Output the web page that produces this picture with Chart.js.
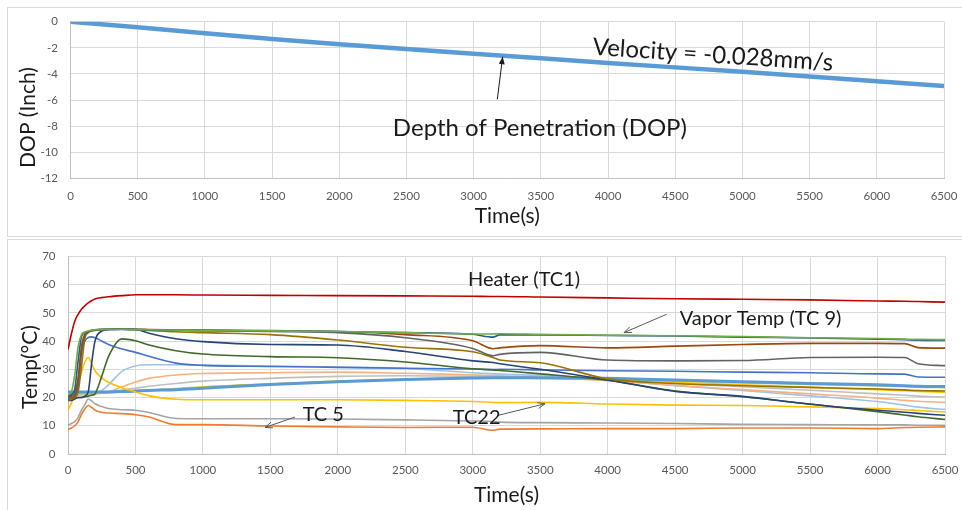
<!DOCTYPE html>
<html>
<head>
<meta charset="utf-8">
<title>DOP and temperature</title>
<script src="https://cdn.jsdelivr.net/npm/chart.js@4.4.0/dist/chart.umd.min.js"></script>
<style>
  body { margin: 0; background: #fff; width: 962px; height: 510px; overflow: hidden; position: relative; }
  .panel { position: absolute; left: 7px; border: 1px solid #d9d9d9; border-right: none; }
  #p1 { top: 7px; width: 955px; height: 228px; }
  #p2 { top: 239px; width: 955px; height: 280px; border-bottom: none; }
  canvas { position: absolute; left: 0; }
  #c1 { top: 0; }
  #c2 { top: 237px; }
</style>
</head>
<body>
<div class="panel" id="p1"></div>
<div class="panel" id="p2"></div>
<canvas id="c1" width="962" height="237"></canvas>
<canvas id="c2" width="962" height="273"></canvas>
<script>
// ---- top chart data: depth of penetration
const dopTime = [0, 500, 1000, 1500, 2000, 2500, 3000, 3500, 4000, 4500, 5000, 5500, 6000, 6500];
const dop = [0, -0.43, -0.89, -1.33, -1.73, -2.1, -2.45, -2.8, -3.17, -3.5, -3.83, -4.2, -4.56, -4.93];

// ---- bottom chart data: thermocouples
const time = [0, 25, 50, 75, 100, 125, 150, 175, 200, 250, 300, 400, 500, 600, 800, 1000, 1500, 2000, 2500, 3000, 3150, 3200, 3500, 4000, 4500, 5000, 5500, 6000, 6200, 6300, 6500];
const heater = [37, 42.5, 47, 49.5, 51.3, 52.5, 53.5, 54.3, 54.9, 55.4, 55.7, 56.1, 56.4, 56.4, 56.4, 56.3, 56.2, 56.1, 56.0, 55.9, 55.8, 55.8, 55.6, 55.3, 55.0, 54.8, 54.6, 54.2, 54.1, 54.0, 53.8];
const tcGreen = [21, 22, 28, 38, 42.3, 43.2, 43.6, 43.8, 44, 44.1, 44.2, 44.2, 44.1, 44, 43.9, 43.8, 43.6, 43.4, 43, 42.5, 42.5, 42.6, 42.4, 42.1, 41.9, 41.6, 41.2, 40.9, 40.7, 40.6, 40.5];
const tcTeal = [20.5, 21, 23, 33, 41.5, 43, 43.5, 43.8, 44, 44.1, 44.2, 44.2, 44.1, 44, 43.9, 43.8, 43.6, 43.4, 43, 42.4, 41.4, 42.2, 42.2, 42.0, 41.8, 41.4, 41.1, 40.7, 40.5, 40.3, 40.2];
const tcBrown = [20, 20.5, 21, 27, 38, 42.5, 43.3, 43.7, 44, 44.1, 44.2, 44.2, 44.2, 44.1, 44, 43.9, 43.7, 43.4, 42.3, 40.1, 37.3, 37.6, 38.4, 37.6, 38.2, 38.8, 39.2, 39.2, 39.1, 37.7, 37.5];
const tcDarkGray = [19.5, 20, 20.5, 24, 36, 42, 43.2, 43.6, 43.8, 44, 44, 44.1, 44, 43.9, 43.8, 43.7, 43.4, 43.0, 41.2, 37.4, 34.8, 35.3, 36.0, 33.3, 33.0, 33.1, 34.2, 34.3, 34.2, 32.0, 31.3];
const tcOlive = [19, 19.5, 20, 22, 31, 41, 43, 43.6, 43.9, 44.1, 44.2, 44.2, 44.1, 43.8, 43.3, 43.0, 42.3, 40.4, 37.8, 36.2, 34.2, 33.3, 32.3, 26.6, 25.0, 24.2, 23.6, 23.0, 22.7, 22.5, 22.3];
const tcNavy = [19, 19, 19.5, 20, 20, 20.5, 22, 32, 40, 43.5, 44.1, 44.3, 44.2, 42.8, 40.8, 39.8, 38.8, 38.6, 36.3, 33.0, 32.4, 32.0, 30.0, 26.2, 22.2, 20.4, 17.6, 15.5, 14.8, 14.4, 13.7];
const tcDarkGreen = [19.5, 19.5, 19.8, 20, 20, 20.3, 20.5, 20.8, 21.3, 27.5, 34.5, 40.8, 40.1, 38.6, 36.6, 35.4, 34.5, 34.1, 32.6, 30.2, 29.8, 29.6, 28.4, 26.1, 22.3, 20.3, 17.7, 15.0, 13.8, 13.2, 12.2];
const tcBlue = [20.5, 21, 22, 26, 36, 40, 41.3, 41.5, 41.2, 40, 38.8, 37.2, 36, 34.6, 32.2, 31.4, 31.0, 30.7, 30.4, 30.1, 29.9, 30.0, 29.8, 29.5, 29.3, 29.0, 28.8, 28.4, 28.3, 27.3, 27.2];
const tcLightBlue = [21.5, 21.5, 21.5, 21.5, 21.5, 21.5, 21.5, 21.6, 21.8, 22.5, 24.5, 29.3, 31.2, 31.6, 31.6, 31.5, 31.2, 30.8, 30.3, 28.8, 28.4, 28.3, 27.8, 26.2, 24.2, 22.5, 20.6, 18.6, 17.3, 16.6, 15.8];
const tcLightOrange = [21, 21, 21, 21, 21.2, 21.3, 21.4, 21.5, 21.5, 21.7, 22, 23.8, 25.5, 26.8, 28.0, 28.5, 28.8, 29.0, 28.6, 28.0, 27.8, 27.7, 27.2, 26.0, 24.3, 22.8, 21.3, 19.8, 19.0, 18.7, 18.3];
const tcLightGray = [21, 21, 21, 21, 21, 21.2, 21.3, 21.4, 21.5, 21.7, 22, 22.7, 23.3, 24, 25, 25.8, 26.8, 27.5, 27.7, 27.5, 27.4, 27.4, 27.0, 26.2, 25.0, 23.8, 22.6, 21.3, 20.8, 20.5, 20.2];
const tcGold = [21.5, 21.5, 21.5, 21.5, 21.5, 21.5, 21.5, 21.6, 21.6, 21.7, 21.8, 22, 22.3, 22.6, 23, 23.7, 24.8, 25.8, 26.5, 27, 27, 27, 26.9, 26.3, 25.3, 24.5, 23.6, 22.8, 22.4, 22.2, 21.9];
const tcLightGreen = [21, 21, 21, 21, 21, 21, 21.1, 21.2, 21.3, 21.5, 21.7, 22, 22.2, 22.6, 23.2, 23.8, 24.8, 25.7, 26.4, 26.9, 26.9, 26.9, 26.8, 26.4, 25.8, 25.2, 24.6, 24.1, 23.9, 23.7, 23.5];
const tcSky = [22, 22, 22, 22, 22, 22, 22, 22, 22, 22, 22, 22.1, 22.3, 22.5, 22.8, 23.3, 24.6, 25.6, 26.4, 26.9, 27, 27, 27.0, 26.8, 26.2, 25.6, 25.0, 24.5, 24.2, 24.0, 23.9];
const tc22 = [15.5, 18, 21, 25, 29, 32.5, 34.2, 32, 29.5, 27, 25.4, 23.5, 22, 20.6, 19.4, 19.2, 19.2, 19.2, 19.0, 18.6, 18.3, 18.2, 18.3, 17.7, 17.3, 17.2, 16.7, 16.1, 15.7, 15.4, 14.9];
const tcGray = [10.2, 10.8, 11.5, 13, 15.5, 17.5, 19.5, 18.8, 17.8, 16.8, 16.1, 15.7, 15.5, 14.7, 12.6, 12.5, 12.5, 12.4, 12.1, 11.7, 11.5, 11.3, 11.1, 11.0, 10.8, 10.5, 10.4, 10.3, 10.3, 10.2, 10.2];
const tc5 = [8.7, 9.2, 10, 11.5, 14, 16, 17.2, 16.5, 15.5, 14.8, 14.5, 14.3, 13.9, 13.1, 10.4, 10.4, 9.9, 9.6, 9.4, 9.5, 8.4, 8.8, 8.9, 9.0, 9.0, 9.2, 9.2, 9.0, 9.4, 9.5, 9.6];

const FONT = 'Lato, "Open Sans", sans-serif';
const TICK = '#595959';
const GRID = '#d9d9d9';

function pts(xs, ys) { return ys.map((v, i) => ({ x: xs[i], y: v })); }

function line(values, color, width) {
  return {
    data: pts(time, values), borderColor: color, borderWidth: width || 1.6,
    pointRadius: 0, fill: false, cubicInterpolationMode: 'monotone'
  };
}

// text + arrow annotations, placed in data units
function notes(yTitle, labels, arrows) {
  return {
    id: 'notes',
    afterDatasetsDraw(chart) {
      const { ctx, scales: { x, y } } = chart;
      ctx.save();
      ctx.fillStyle = '#1a1a1a';
      ctx.textAlign = 'center';
      ctx.textBaseline = 'middle';
      arrows.forEach(a => {
        const x1 = x.getPixelForValue(a[0]), y1 = y.getPixelForValue(a[1]);
        const x2 = x.getPixelForValue(a[2]), y2 = y.getPixelForValue(a[3]);
        const ang = Math.atan2(y2 - y1, x2 - x1);
        ctx.strokeStyle = a[4] ? '#1a1a1a' : '#595959';
        ctx.lineWidth = 1;
        ctx.beginPath(); ctx.moveTo(x1, y1); ctx.lineTo(x2, y2); ctx.stroke();
        ctx.beginPath();
        ctx.moveTo(x2 - 8 * Math.cos(ang - 0.38), y2 - 8 * Math.sin(ang - 0.38));
        ctx.lineTo(x2, y2);
        ctx.lineTo(x2 - 8 * Math.cos(ang + 0.38), y2 - 8 * Math.sin(ang + 0.38));
        if (a[4]) { ctx.closePath(); ctx.fillStyle = '#1a1a1a'; ctx.fill(); } else ctx.stroke();
      });
      labels.forEach(l => {
        ctx.save();
        ctx.translate(x.getPixelForValue(l[1]), y.getPixelForValue(l[2]));
        ctx.rotate((l[4] || 0) * Math.PI / 180);
        ctx.font = l[3] + 'px ' + FONT;
        ctx.fillStyle = '#1a1a1a';
        ctx.fillText(l[0], 0, 0);
        ctx.restore();
      });
      // vertical axis title
      ctx.translate(yTitle[1], yTitle[2]);
      ctx.rotate(-Math.PI / 2);
      ctx.font = '21px ' + FONT;
      ctx.fillText(yTitle[0], 0, 0);
      ctx.restore();
    }
  };
}

function axes(xH, yW, xPad, titlePad, yMin, yMax, yStep) {
  return {
    x: {
      type: 'linear', min: 0, max: 6500,
      ticks: { stepSize: 500, padding: xPad, color: TICK, maxRotation: 0, font: { family: FONT, size: 11.5 },
               callback: v => String(v) },
      grid: { color: GRID, drawTicks: false },
      border: { color: '#bfbfbf' },
      title: { display: true, text: 'Time(s)', color: '#1a1a1a', font: { family: FONT, size: 21 }, padding: { top: 0, bottom: titlePad } },
      afterFit(s) { s.height = xH; s.paddingLeft = 0; s.paddingRight = 0; }
    },
    y: {
      min: yMin, max: yMax,
      ticks: { stepSize: yStep, padding: 12.5, color: TICK, font: { family: FONT, size: 11.5 },
               callback: v => String(v) },
      grid: { color: GRID, drawTicks: false },
      border: { color: '#bfbfbf' },
      afterFit(s) { s.width = yW; }
    }
  };
}

const common = {
  responsive: false, animation: false, events: [],
  plugins: { legend: { display: false }, tooltip: { enabled: false } }
};

new Chart(document.getElementById('c1'), {
  type: 'line',
  data: {
    datasets: [{
      data: pts(dopTime, dop), borderColor: '#5b9bd5', borderWidth: 4.5,
      pointRadius: 0, fill: false
    }]
  },
  options: Object.assign({}, common, {
    layout: { padding: { top: 21.7, right: 18, bottom: 0, left: 0 } },
    scales: axes(58.7, 70.5, 11, 8.4, -12, 0, 2)
  }),
  plugins: [notes(['DOP (Inch)', 28, 117.5],
    [['Velocity = -0.028mm/s', 4781, -2.55, 24, 3.8],
     ['Depth of Penetration (DOP)', 3493, -8.14, 24, 0]],
    [[3176, -5.95, 3216, -2.68, true]])]
});

new Chart(document.getElementById('c2'), {
  type: 'line',
  data: {
    datasets: [
      line(heater, '#c00000'),
      line(tcGreen, '#70ad47'),
      line(tcTeal, '#255e91'),
      line(tcBrown, '#9e480e'),
      line(tcDarkGray, '#636363'),
      line(tcOlive, '#997300'),
      line(tcNavy, '#264478'),
      line(tcDarkGreen, '#43682b'),
      line(tcBlue, '#4472c4'),
      line(tc22, '#ffc000'),
      line(tcGray, '#a5a5a5'),
      line(tc5, '#ed7d31'),
      line(tcSky, '#5b9bd5', 3),
      line(tcGold, '#ffc000'),
      line(tcLightGreen, '#a9d18e'),
      line(tcLightGray, '#bfbfbf'),
      line(tcLightOrange, '#f4b183'),
      line(tcLightBlue, '#9dc3e6')
    ]
  },
  options: Object.assign({}, common, {
    layout: { padding: { top: 18, right: 17, bottom: 0, left: 0 } },
    scales: axes(56, 68, 9.5, 2.4, 0, 70, 10)
  }),
  plugins: [notes(['Temp(°C)', 30, 130],
    [['Heater (TC1)', 3380, 61.8, 20],
     ['Vapor Temp (TC 9)', 5133, 48.1, 20],
     ['TC 5', 1892, 14.1, 20],
     ['TC22', 3029, 12.8, 20]],
    [[4437, 49.5, 4121, 43.0, false],
     [1682, 13.1, 1460, 9.4, false],
     [3189, 13.7, 3536, 17.8, false]])]
});
</script>
</body>
</html>
